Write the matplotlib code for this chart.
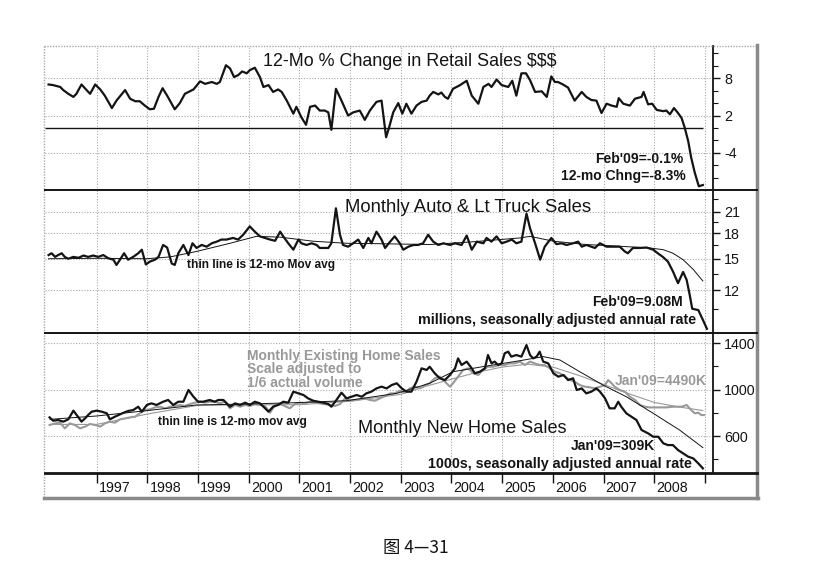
import numpy as np
import matplotlib
matplotlib.use("Agg")
import matplotlib.pyplot as plt
from matplotlib.lines import Line2D
from matplotlib.ticker import NullFormatter
from matplotlib import font_manager

W, H = 817, 578

# ---- data: (decimal year, value) ----
retail_pts = [
    (1996.05, 7.0), (1996.14, 6.9), (1996.28, 6.6), (1996.34, 6.1), (1996.44, 5.5), (1996.54, 5.0),
    (1996.60, 5.5), (1996.70, 7.0), (1996.80, 6.1), (1996.87, 5.5), (1996.97, 7.0), (1997.07, 6.2),
    (1997.16, 5.2), (1997.30, 3.2), (1997.39, 4.4), (1997.56, 6.1), (1997.66, 4.7), (1997.76, 4.3),
    (1997.85, 4.3), (1997.95, 3.6), (1998.05, 3.0), (1998.13, 3.1), (1998.22, 5.0), (1998.30, 6.4),
    (1998.39, 5.2), (1998.54, 3.0), (1998.64, 4.0), (1998.74, 5.5), (1998.91, 6.2), (1999.04, 7.5),
    (1999.14, 7.1), (1999.27, 7.4), (1999.37, 7.1), (1999.43, 7.4), (1999.55, 10.1), (1999.63, 9.6),
    (1999.71, 8.2), (1999.79, 8.5), (1999.87, 9.1), (1999.96, 8.8), (2000.02, 9.3), (2000.12, 9.7),
    (2000.22, 8.2), (2000.29, 6.6), (2000.39, 6.9), (2000.48, 5.8), (2000.58, 6.2), (2000.65, 5.8),
    (2000.75, 4.4), (2000.88, 2.3), (2000.94, 3.4), (2001.04, 1.7), (2001.13, 0.5), (2001.21, 3.4),
    (2001.31, 3.6), (2001.40, 2.8), (2001.50, 2.8), (2001.57, 2.5), (2001.63, -0.3), (2001.72, 6.3),
    (2001.83, 4.4), (2001.96, 2.0), (2002.06, 2.5), (2002.19, 2.8), (2002.29, 1.3), (2002.39, 2.8),
    (2002.52, 4.2), (2002.62, 4.4), (2002.71, -1.5), (2002.77, 0.1), (2002.85, 2.5), (2002.95, 4.0),
    (2003.03, 2.3), (2003.11, 3.9), (2003.21, 2.3), (2003.31, 3.6), (2003.41, 4.2), (2003.51, 4.4),
    (2003.57, 5.2), (2003.64, 5.8), (2003.74, 5.4), (2003.80, 5.7), (2003.87, 5.0), (2003.93, 4.7),
    (2004.03, 6.3), (2004.17, 6.9), (2004.30, 7.6), (2004.40, 5.2), (2004.53, 3.9), (2004.63, 6.6),
    (2004.73, 7.1), (2004.79, 6.6), (2004.89, 7.8), (2004.99, 6.9), (2005.12, 6.6), (2005.20, 7.6),
    (2005.28, 5.2), (2005.38, 8.8), (2005.47, 8.8), (2005.55, 7.7), (2005.65, 5.8), (2005.78, 5.9),
    (2005.88, 5.0), (2005.97, 8.3), (2006.04, 7.4), (2006.10, 7.4), (2006.20, 7.0), (2006.30, 6.5),
    (2006.43, 4.4), (2006.57, 5.8), (2006.66, 5.0), (2006.76, 4.5), (2006.86, 4.4), (2006.96, 2.4),
    (2007.06, 3.9), (2007.16, 3.6), (2007.26, 3.4), (2007.30, 4.8), (2007.39, 3.9), (2007.52, 3.6),
    (2007.62, 4.7), (2007.75, 5.0), (2007.79, 5.8), (2007.88, 3.8), (2007.96, 3.9), (2008.05, 2.9),
    (2008.18, 2.7), (2008.24, 2.8), (2008.31, 2.2), (2008.39, 3.2), (2008.47, 2.4), (2008.54, 1.6),
    (2008.60, 0.1), (2008.67, -2.1), (2008.73, -4.8), (2008.80, -7.2), (2008.88, -9.4), (2008.96, -9.2),
]

auto_pts = [
    (1996.05, 15.4), (1996.11, 15.6), (1996.18, 15.2), (1996.24, 15.4), (1996.31, 15.6), (1996.37, 15.2),
    (1996.44, 15.0), (1996.54, 15.2), (1996.64, 15.1), (1996.74, 15.35), (1996.83, 15.2), (1996.93, 15.35),
    (1997.03, 15.2), (1997.13, 15.4), (1997.23, 15.05), (1997.33, 14.9), (1997.39, 14.35), (1997.46, 14.9),
    (1997.54, 15.6), (1997.62, 14.9), (1997.72, 15.2), (1997.82, 15.6), (1997.89, 16.0), (1997.97, 14.4),
    (1998.05, 14.7), (1998.15, 14.9), (1998.22, 15.2), (1998.31, 16.55), (1998.39, 16.25), (1998.48, 14.5),
    (1998.54, 14.35), (1998.61, 15.6), (1998.71, 16.55), (1998.81, 15.4), (1998.89, 16.75), (1998.97, 16.2),
    (1999.07, 16.55), (1999.17, 16.35), (1999.27, 16.75), (1999.37, 16.95), (1999.46, 17.2), (1999.56, 17.2),
    (1999.69, 17.4), (1999.79, 17.2), (1999.89, 17.8), (2000.02, 18.9), (2000.12, 18.2), (2000.22, 17.6),
    (2000.32, 17.4), (2000.42, 17.2), (2000.52, 17.05), (2000.62, 18.2), (2000.68, 17.6), (2000.78, 16.75),
    (2000.88, 16.0), (2000.98, 17.2), (2001.04, 16.75), (2001.14, 16.55), (2001.24, 16.75), (2001.34, 16.55),
    (2001.40, 16.2), (2001.47, 16.2), (2001.57, 16.2), (2001.63, 16.75), (2001.72, 21.5), (2001.80, 17.8),
    (2001.86, 16.55), (2001.96, 16.35), (2002.06, 16.75), (2002.16, 17.2), (2002.26, 16.2), (2002.36, 17.4),
    (2002.42, 16.75), (2002.52, 18.2), (2002.62, 17.2), (2002.69, 16.2), (2002.79, 16.95), (2002.88, 17.6),
    (2002.98, 16.75), (2003.05, 16.0), (2003.15, 16.35), (2003.25, 16.55), (2003.34, 16.55), (2003.44, 16.75),
    (2003.54, 17.8), (2003.64, 16.95), (2003.74, 16.55), (2003.84, 16.75), (2003.97, 16.55), (2004.07, 16.75),
    (2004.20, 16.55), (2004.30, 17.7), (2004.40, 16.0), (2004.50, 16.95), (2004.63, 16.75), (2004.69, 17.4),
    (2004.79, 16.95), (2004.89, 17.6), (2004.99, 16.75), (2005.09, 16.95), (2005.19, 17.2), (2005.28, 16.75),
    (2005.38, 16.95), (2005.48, 20.7), (2005.55, 18.65), (2005.65, 16.75), (2005.75, 14.9), (2005.84, 16.35),
    (2005.97, 17.4), (2006.07, 16.65), (2006.17, 16.75), (2006.27, 16.55), (2006.40, 16.75), (2006.50, 16.95),
    (2006.57, 16.35), (2006.66, 16.55), (2006.76, 16.35), (2006.83, 16.2), (2006.93, 16.75), (2007.06, 16.35),
    (2007.19, 16.35), (2007.32, 16.35), (2007.42, 15.8), (2007.48, 15.6), (2007.58, 16.2), (2007.71, 16.2),
    (2007.85, 16.25), (2007.98, 16.0), (2008.07, 15.6), (2008.17, 15.2), (2008.27, 14.7), (2008.37, 13.7),
    (2008.47, 12.6), (2008.57, 13.65), (2008.64, 12.9), (2008.70, 11.6), (2008.75, 10.5), (2008.87, 10.4),
    (2008.96, 9.7), (2009.04, 9.1),
]

auto_ma_pts = [
    (1996.05, 15.0), (1997.00, 15.05), (1997.99, 15.0), (1998.45, 15.2), (1998.97, 15.8), (1999.63, 16.75),
    (2000.15, 17.6), (2000.62, 17.5), (2001.27, 17.0), (2001.93, 16.75), (2002.59, 16.7), (2003.57, 16.6),
    (2004.36, 16.9), (2005.35, 17.4), (2005.55, 17.6), (2006.01, 17.0), (2006.66, 16.6), (2007.32, 16.4),
    (2007.91, 16.2), (2008.18, 16.0), (2008.37, 15.6), (2008.57, 14.9), (2008.77, 13.9), (2008.96, 12.8),
]

newhome_pts = [
    (1996.07, 761), (1996.14, 732), (1996.24, 738), (1996.34, 724), (1996.44, 744), (1996.54, 819),
    (1996.64, 761), (1996.70, 724), (1996.77, 752), (1996.83, 781), (1996.90, 810), (1997.00, 819),
    (1997.10, 810), (1997.20, 796), (1997.26, 744), (1997.36, 767), (1997.43, 781), (1997.53, 801),
    (1997.62, 816), (1997.72, 824), (1997.82, 853), (1997.89, 810), (1997.99, 868), (1998.08, 882),
    (1998.18, 868), (1998.31, 896), (1998.41, 911), (1998.51, 868), (1998.61, 896), (1998.71, 896),
    (1998.81, 997), (1998.91, 939), (1999.00, 896), (1999.10, 896), (1999.23, 911), (1999.33, 896),
    (1999.40, 911), (1999.50, 911), (1999.63, 853), (1999.73, 882), (1999.83, 868), (1999.93, 888),
    (2000.02, 868), (2000.12, 896), (2000.22, 882), (2000.29, 853), (2000.39, 810), (2000.48, 853),
    (2000.58, 868), (2000.68, 896), (2000.78, 888), (2000.88, 983), (2000.98, 968), (2001.08, 954),
    (2001.17, 925), (2001.27, 905), (2001.37, 896), (2001.47, 888), (2001.57, 876), (2001.63, 853),
    (2001.73, 911), (2001.83, 974), (2001.93, 925), (2002.03, 939), (2002.13, 954), (2002.23, 939),
    (2002.32, 968), (2002.42, 983), (2002.52, 1011), (2002.62, 1026), (2002.72, 1011), (2002.82, 1040),
    (2002.92, 1055), (2003.02, 1011), (2003.11, 983), (2003.21, 983), (2003.31, 1069), (2003.41, 1184),
    (2003.51, 1170), (2003.57, 1198), (2003.67, 1141), (2003.77, 1098), (2003.87, 1083), (2003.97, 1127),
    (2004.07, 1184), (2004.13, 1270), (2004.20, 1213), (2004.30, 1242), (2004.40, 1184), (2004.46, 1141),
    (2004.56, 1155), (2004.66, 1184), (2004.72, 1299), (2004.79, 1227), (2004.85, 1242), (2004.92, 1213),
    (2004.99, 1227), (2005.05, 1314), (2005.12, 1328), (2005.18, 1285), (2005.28, 1299), (2005.38, 1285),
    (2005.48, 1385), (2005.55, 1299), (2005.61, 1270), (2005.68, 1285), (2005.74, 1328), (2005.81, 1242),
    (2005.91, 1227), (2006.01, 1141), (2006.11, 1112), (2006.21, 1127), (2006.30, 1083), (2006.40, 1098),
    (2006.47, 997), (2006.57, 1011), (2006.66, 968), (2006.76, 983), (2006.86, 1011), (2006.93, 983),
    (2007.03, 925), (2007.12, 839), (2007.22, 839), (2007.29, 896), (2007.35, 853), (2007.45, 796),
    (2007.55, 767), (2007.65, 738), (2007.75, 652), (2007.88, 623), (2007.98, 594), (2008.08, 594),
    (2008.18, 537), (2008.27, 522), (2008.37, 522), (2008.47, 479), (2008.57, 450), (2008.67, 422),
    (2008.77, 407), (2008.87, 364), (2008.96, 321),
]

newhome_ma_pts = [
    (1996.08, 744), (1997.00, 773), (1997.99, 819), (1998.97, 868), (1999.96, 876), (2000.94, 888),
    (2001.93, 905), (2002.92, 968), (2003.57, 1055), (2004.03, 1155), (2004.69, 1204), (2005.35, 1250),
    (2005.81, 1285), (2006.14, 1256), (2006.53, 1155), (2006.99, 1040), (2007.45, 939), (2007.98, 796),
    (2008.50, 652), (2008.96, 500),
]

exist_pts = [
    (1996.07, 695), (1996.18, 709), (1996.28, 715), (1996.37, 666), (1996.47, 709), (1996.57, 695),
    (1996.67, 666), (1996.77, 681), (1996.87, 704), (1996.97, 695), (1997.07, 681), (1997.16, 709),
    (1997.26, 724), (1997.36, 715), (1997.46, 744), (1997.56, 752), (1997.66, 761), (1997.76, 767),
    (1997.85, 796), (1997.95, 824), (1998.05, 830), (1998.15, 847), (1998.25, 853), (1998.35, 839),
    (1998.45, 853), (1998.54, 859), (1998.64, 868), (1998.74, 859), (1998.84, 876), (1998.94, 888),
    (1999.04, 896), (1999.14, 888), (1999.23, 896), (1999.33, 896), (1999.43, 882), (1999.53, 896),
    (1999.63, 839), (1999.73, 868), (1999.83, 853), (1999.93, 868), (2000.02, 859), (2000.12, 876),
    (2000.22, 868), (2000.32, 859), (2000.42, 801), (2000.52, 868), (2000.62, 876), (2000.71, 859),
    (2000.81, 839), (2000.91, 876), (2001.01, 888), (2001.11, 882), (2001.21, 896), (2001.31, 888),
    (2001.40, 882), (2001.50, 876), (2001.60, 868), (2001.70, 859), (2001.80, 876), (2001.90, 925),
    (2002.00, 905), (2002.09, 911), (2002.19, 916), (2002.29, 925), (2002.39, 911), (2002.49, 905),
    (2002.59, 925), (2002.69, 945), (2002.79, 968), (2002.88, 968), (2002.98, 991), (2003.08, 974),
    (2003.18, 1011), (2003.28, 1026), (2003.38, 1011), (2003.48, 1040), (2003.57, 1055), (2003.67, 1098),
    (2003.77, 1112), (2003.87, 1069), (2003.97, 1026), (2004.03, 1055), (2004.13, 1112), (2004.23, 1170),
    (2004.33, 1184), (2004.43, 1141), (2004.53, 1127), (2004.63, 1175), (2004.72, 1198), (2004.82, 1198),
    (2004.95, 1213), (2005.05, 1213), (2005.15, 1227), (2005.25, 1227), (2005.35, 1242), (2005.45, 1213),
    (2005.55, 1242), (2005.64, 1227), (2005.74, 1213), (2005.84, 1213), (2005.94, 1184), (2006.04, 1155),
    (2006.14, 1141), (2006.24, 1112), (2006.34, 1083), (2006.43, 1069), (2006.53, 1040), (2006.63, 1026),
    (2006.73, 1020), (2006.83, 1011), (2006.93, 1026), (2007.03, 1040), (2007.09, 1083), (2007.16, 1055),
    (2007.22, 1026), (2007.32, 997), (2007.42, 983), (2007.52, 939), (2007.62, 911), (2007.72, 868),
    (2007.82, 853), (2007.91, 847), (2008.01, 847), (2008.11, 847), (2008.24, 847), (2008.37, 853),
    (2008.54, 853), (2008.64, 868), (2008.73, 824), (2008.80, 796), (2008.87, 801), (2008.93, 781),
    (2008.98, 781),
]

exist_ma_pts = [
    (1996.07, 700), (1997.00, 700), (1998.00, 790), (1999.00, 865), (2000.00, 870), (2001.00, 870),
    (2002.00, 900), (2003.00, 960), (2003.50, 1030), (2004.00, 1090), (2004.50, 1150), (2005.00, 1195),
    (2005.50, 1220), (2006.00, 1195), (2006.50, 1125), (2007.00, 1045), (2007.50, 965), (2008.00, 890),
    (2008.50, 850), (2008.96, 820),
]

years = list(range(1997, 2010))
year_labels = [str(y) for y in range(1997, 2009)]

retail_ticks, retail_labels = [8, 2, -4], ["8", "2", "-4"]
retail_minor = [12, 10, 6, 4, 0, -2, -6, -8]
auto_ticks, auto_labels = [21, 18, 15, 12], ["21", "18", "15", "12"]
auto_minor = [23, 19.5, 16.5, 13.5, 10.5]
home_ticks, home_labels = [1400, 1000, 600], ["1400", "1000", "600"]
home_minor = [1200, 800, 400]

# ---- fonts ----
names = {f.name for f in font_manager.fontManager.ttflist}
narrow = "Liberation Sans Narrow" if "Liberation Sans Narrow" in names else "Liberation Sans"
plt.rcParams["font.family"] = ["Liberation Sans", "DejaVu Sans"]
plt.rcParams["axes.unicode_minus"] = False

BLACK = "#141414"
GRAY = "#999999"
GRID = "#a8a8a8"

fig = plt.figure(figsize=(W / 100, H / 100), dpi=100)

def ax_at(top, bottom):
    return fig.add_axes([45 / W, 1 - bottom / H, 668 / W, (bottom - top) / H])

ax1 = ax_at(46, 190)
ax2 = ax_at(190, 333)
ax3 = ax_at(333, 473)

XMIN, XMAX = 1995.98, 2009.16

def unzip(pts):
    return [p[0] for p in pts], [p[1] for p in pts]

for ax in (ax1, ax2, ax3):
    ax.set_xlim(XMIN, XMAX)
    for s in ("left", "top", "bottom"):
        ax.spines[s].set_visible(False)
    ax.spines["right"].set_color(BLACK)
    ax.spines["right"].set_linewidth(1.3)
    ax.yaxis.tick_right()
    ax.set_xticks(years)
    ax.grid(True, which="major", linestyle=(0, (1, 1.5)), color=GRID, linewidth=0.8)
    ax.tick_params(axis="x", length=0, labelbottom=False)
    ax.tick_params(axis="y", which="major", length=5, width=1, direction="out", pad=3,
                   labelsize=10.3, labelfontfamily=narrow, colors=BLACK)
    ax.tick_params(axis="y", which="minor", length=3.5, width=0.8, direction="out", colors=BLACK)
    ax.set_axisbelow(True)

# top panel: retail sales
d, v = unzip(retail_pts)
ax1.plot(d, v, color=BLACK, lw=1.6)
ax1.hlines(0, XMIN, d[-1], color=BLACK, lw=1.0)
ax1.set_ylim(-10, 13.2)
ax1.set_yticks(retail_ticks)
ax1.set_yticklabels(retail_labels)
ax1.set_yticks(retail_minor, minor=True)
ax1.yaxis.set_minor_formatter(NullFormatter())

# middle panel: auto sales, log scale
ax2.set_yscale("log")
d, v = unzip(auto_ma_pts)
ax2.plot(d, v, color=BLACK, lw=0.7)
d, v = unzip(auto_pts)
ax2.plot(d, v, color=BLACK, lw=1.6)
ax2.set_ylim(8.83, 24.5)
ax2.set_yticks(auto_ticks)
ax2.set_yticklabels(auto_labels)
ax2.set_yticks(auto_minor, minor=True)
ax2.yaxis.set_minor_formatter(NullFormatter())

# bottom panel: home sales
d, v = unzip(exist_ma_pts)
ax3.plot(d, v, color=GRAY, lw=0.8)
d, v = unzip(exist_pts)
ax3.plot(d, v, color=GRAY, lw=1.5)
d, v = unzip(newhome_ma_pts)
ax3.plot(d, v, color=BLACK, lw=0.7)
d, v = unzip(newhome_pts)
ax3.plot(d, v, color=BLACK, lw=1.6)
ax3.set_ylim(281, 1489)
ax3.set_yticks(home_ticks)
ax3.set_yticklabels(home_labels)
ax3.set_yticks(home_minor, minor=True)
ax3.yaxis.set_minor_formatter(NullFormatter())

# year ticks below the bottom panel, labels right of each tick
ax3.tick_params(axis="x", length=7, width=1, direction="out", colors=BLACK)
for yr, lbl in zip(years, year_labels):
    ax3.annotate(lbl, xy=(yr, 0), xycoords=("data", "axes fraction"), xytext=(1.5, -5.5),
                 textcoords="offset points", ha="left", va="top", fontsize=10.3,
                 family=narrow, color=BLACK)

# ---- frame and separators ----
def fline(x0, y0, x1, y1, **kw):
    fig.add_artist(Line2D([x0 / W, x1 / W], [1 - y0 / H, 1 - y1 / H], transform=fig.transFigure, **kw))

fline(44, 46, 757, 46, color=GRID, lw=1, linestyle=(0, (1, 1)))
fline(44, 46, 44, 498, color=GRID, lw=1, linestyle=(0, (1, 1)))
fline(757, 45, 757, 498, color="#8a8a8a", lw=2.5)
fline(44, 498, 758, 498, color="#8a8a8a", lw=2.5)
fline(45, 190, 757, 190, color=BLACK, lw=1.4)
fline(45, 333, 757, 333, color=BLACK, lw=1.4)
fline(45, 473, 757, 473, color=BLACK, lw=2.0)

# ---- texts ----
def ftext(px, py, s, **kw):
    kw.setdefault("va", "baseline")
    kw.setdefault("color", BLACK)
    fig.text(px / W, 1 - py / H, s, **kw)

ftext(263, 66.5, "12-Mo % Change in Retail Sales $$$", fontsize=12.9)
ftext(683, 163, "Feb'09=-0.1%", ha="right", fontsize=10, family=narrow, weight="bold")
ftext(686, 180, "12-mo Chng=-8.3%", ha="right", fontsize=10, family=narrow, weight="bold")

ftext(345, 211.5, "Monthly Auto & Lt Truck Sales", fontsize=13.3)
ftext(187, 268, "thin line is 12-mo Mov avg", fontsize=8.6, family=narrow, weight="bold")
ftext(683, 305.5, "Feb'09=9.08M", ha="right", fontsize=10, family=narrow, weight="bold")
ftext(696, 324, "millions, seasonally adjusted annual rate", ha="right", fontsize=10.3,
      family=narrow, weight="bold")

ftext(247, 360, "Monthly Existing Home Sales", fontsize=10, family=narrow, weight="bold", color=GRAY)
ftext(247, 373.5, "Scale adjusted to", fontsize=10, family=narrow, weight="bold", color=GRAY)
ftext(247, 387, "1/6 actual volume", fontsize=10, family=narrow, weight="bold", color=GRAY)
ftext(707, 385, "Jan'09=4490K", ha="right", fontsize=10, family=narrow, weight="bold", color=GRAY)
ftext(158, 425, "thin line is 12-mo mov avg", fontsize=8.6, family=narrow, weight="bold")
ftext(358, 433, "Monthly New Home Sales", fontsize=13.1)
ftext(655, 450.5, "Jan'09=309K", ha="right", fontsize=10, family=narrow, weight="bold")
ftext(692, 468, "1000s, seasonally adjusted annual rate", ha="right", fontsize=10.3,
      family=narrow, weight="bold")

ftext(416, 553, "图 4—31", ha="center", fontsize=12.5,
      family=["Noto Sans CJK SC", "DejaVu Sans"])

fig.savefig("out.png", dpi=100)
